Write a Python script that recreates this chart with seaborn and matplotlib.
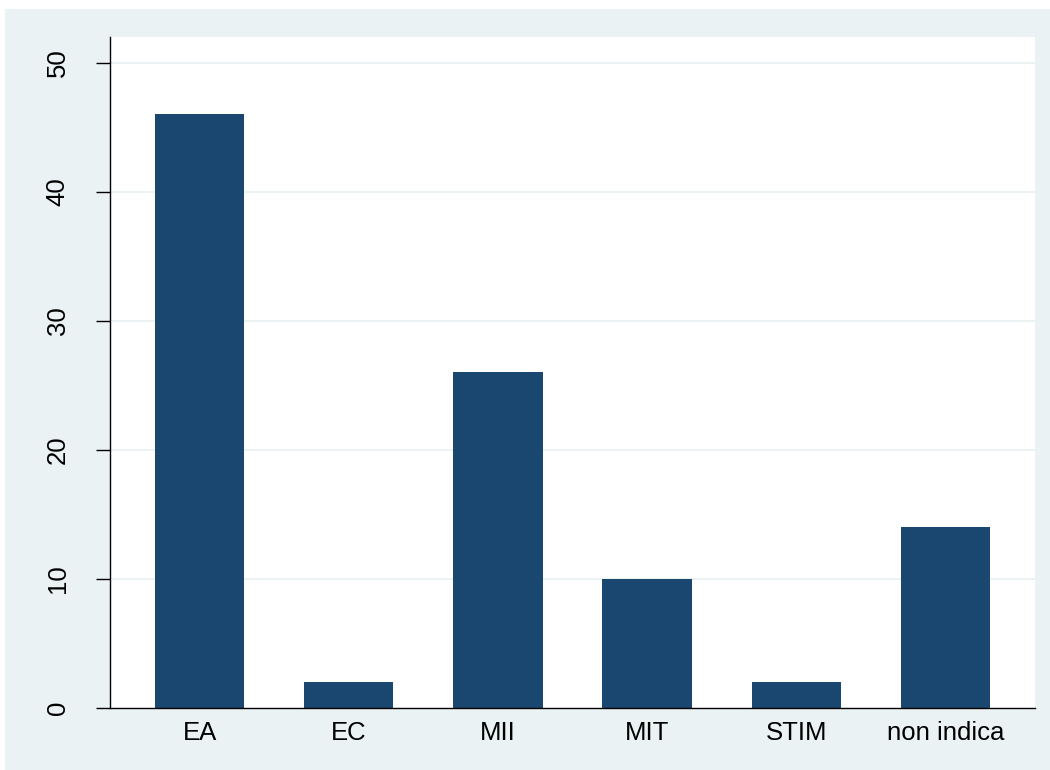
import matplotlib
matplotlib.use("Agg")
import matplotlib.pyplot as plt
import seaborn as sns
import pandas as pd
from matplotlib.patches import Rectangle

# dati
categorie = ["EA", "EC", "MII", "MIT", "STIM", "non indica"]
valori = [46, 2, 26, 10, 2, 14]
yticks = [0, 10, 20, 30, 40, 50]

df = pd.DataFrame({"cat": categorie, "val": valori})

sns.set_style("white")
plt.rcParams["font.family"] = ["Liberation Sans", "DejaVu Sans"]

W, H = 1050, 770
fig = plt.figure(figsize=(10.5, 7.7), dpi=100, facecolor="white")
# pannello grigio-azzurro stile Stata
fig.patches.append(Rectangle((5 / W, 0), 1 - 5 / W, 1 - 9 / H,
                             transform=fig.transFigure, facecolor="#eaf2f3",
                             edgecolor="none", zorder=-10))

ax = fig.add_axes([110 / W, 1 - 708 / H, (1035 - 110) / W, (708 - 37) / H])
ax.set_facecolor("white")

sns.barplot(data=df, x="cat", y="val", color="#1a476f", width=0.6,
            saturation=1, linewidth=0, ax=ax, zorder=3)

ax.set_ylim(0, 52)
ax.set_xlim(-0.6, 5.6)
ax.set_yticks(yticks)
for y in yticks[1:]:
    ax.axhline(y, color="#eaf2f3", lw=1.5, zorder=1)

ax.set_xlabel("")
ax.set_ylabel("")
for s in ["top", "right"]:
    ax.spines[s].set_visible(False)
for s in ["left", "bottom"]:
    ax.spines[s].set_color("black")
    ax.spines[s].set_linewidth(1.0)
    ax.spines[s].set_zorder(4)

ax.tick_params(axis="y", length=10, width=1, color="black", direction="out",
               labelsize=18.5, labelcolor="black", pad=19, left=True)
ax.tick_params(axis="x", length=0, labelsize=18.5, labelcolor="black", pad=9)
for lbl in ax.get_yticklabels():
    lbl.set_rotation(90)
    lbl.set_va("center")

fig.savefig("out.png", dpi=100, facecolor="white")
